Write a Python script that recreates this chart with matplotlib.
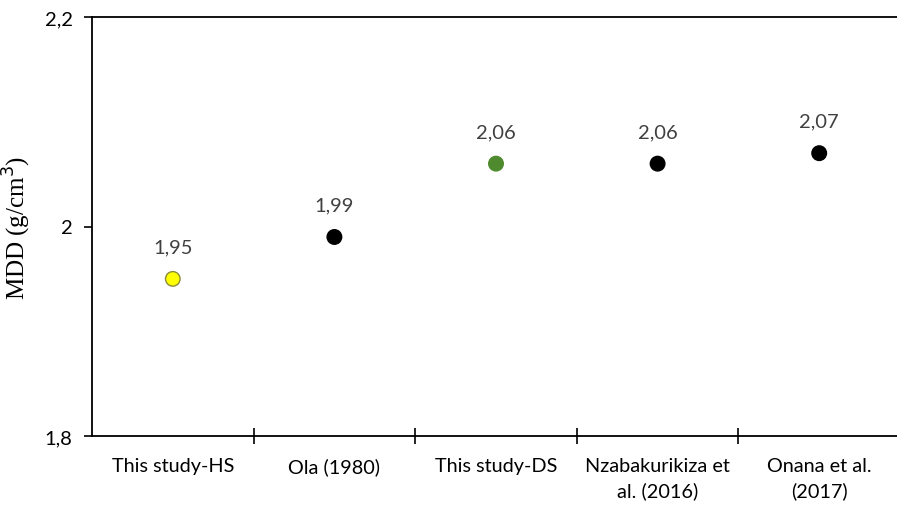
import matplotlib.pyplot as plt

# dados
categorias = ['This study-HS', 'Ola (1980)', 'This study-DS',
              'Nzabakurikiza et\nal. (2016)', 'Onana et al.\n(2017)']
mdd = [1.95, 1.99, 2.06, 2.06, 2.07]
cores = ['#FFFF00', 'black', '#4F8A2F', 'black', 'black']
bordas = ['#8C8C3A', 'black', '#4F8A2F', 'black', 'black']
y_ticks = [1.8, 2.0, 2.2]
y_tick_labels = ['1,8', '2', '2,2']

fig = plt.figure(figsize=(8.97, 5.06), dpi=100)
ax = fig.add_axes([92 / 897, 1 - 437 / 506, 808 / 897, 419 / 506])

x = list(range(len(mdd)))
ax.scatter(x, mdd, s=110, c=cores, edgecolors=bordas, linewidths=1, zorder=3)

for xi, v in zip(x, mdd):
    ax.annotate(f'{v:.2f}'.replace('.', ','), (xi, v), xytext=(0, 17),
                textcoords='offset points', ha='center', va='bottom',
                fontsize=14.5, color='#404040', family='Lato')

ax.set_xlim(-0.5, len(mdd) - 0.5)
ax.set_ylim(1.8, 2.2)
ax.set_yticks(y_ticks)
ax.set_yticklabels(y_tick_labels, family='Lato', fontsize=14.5)

# ticks separadores entre categorias
ax.set_xticks([i + 0.5 for i in range(len(mdd) - 1)])
ax.set_xticklabels([])
ax.set_xticks(x, minor=True)
ax.set_xticklabels(categorias, minor=True, family='Lato', fontsize=14.3,
                   linespacing=1.5)
ax.tick_params(axis='x', which='major', direction='inout', length=12, width=1.2)
ax.tick_params(axis='x', which='minor', length=0, pad=15)
ax.tick_params(axis='y', direction='out', length=6, width=1.2, pad=8)

for lado in ['left', 'bottom', 'top']:
    ax.spines[lado].set_linewidth(1.3)
ax.spines['right'].set_visible(False)

ax.set_ylabel('MDD (g/cm$^3$)', family='Liberation Serif', fontsize=18)
ax.yaxis.set_label_coords(-0.073, 0.5)

fig.savefig('out.png', dpi=100)
